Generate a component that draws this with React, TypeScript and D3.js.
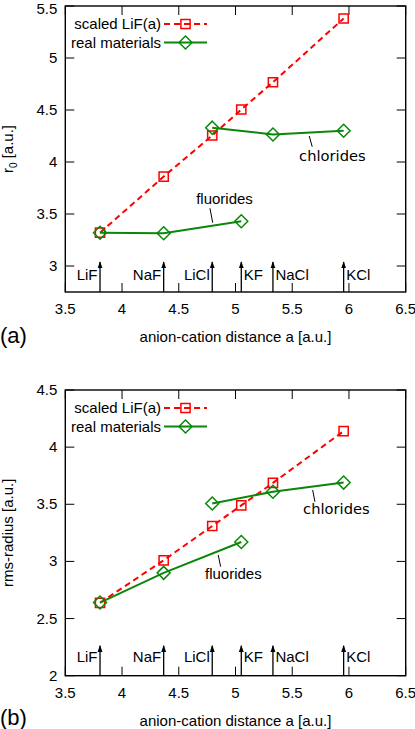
import React from "react";
import * as d3 from "d3";

const materials = ["LiF", "NaF", "LiCl", "KF", "NaCl", "KCl"];
const latticeA = [3.806, 4.367, 4.795, 5.051, 5.33, 5.953];
const labelSide = ["left", "left", "left", "right", "right", "right"];

// panel (a): r0
const scaledR0 = [3.32, 3.86, 4.255, 4.505, 4.767, 5.38];
const realR0 = [3.32, 3.315, 4.33, 3.43, 4.265, 4.3];
// panel (b): rms radius
const scaledRms = [2.638, 3.01, 3.31, 3.49, 3.687, 4.14];
const realRms = [2.64, 2.9, 3.507, 3.17, 3.61, 3.69];

const fluorideIdx = [0, 1, 3];
const chlorideIdx = [2, 4, 5];

const xTicks = [3.5, 4, 4.5, 5, 5.5, 6, 6.5];
const yTicksA = [3, 3.5, 4, 4.5, 5, 5.5];
const yTicksB = [2, 2.5, 3, 3.5, 4, 4.5];

const legendLabels = ["scaled LiF(a)", "real materials"];

// annotation: [text, textX, textY, lineX1, lineY1, lineX2, lineY2]
const annotA: [string, number, number, number, number, number, number][] = [
  ["chlorides", 5.854, 4.01, 5.65, 4.25, 5.676, 4.147],
  ["fluorides", 4.903, 3.596, 4.775, 3.555, 4.799, 3.416],
];
const annotB: [string, number, number, number, number, number, number][] = [
  ["chlorides", 5.889, 3.415, 5.68, 3.625, 5.7, 3.522],
  ["fluorides", 4.981, 2.843, 4.848, 3.056, 4.869, 2.954],
];

const RED = "#ff0000";
const GREEN = "#0a870a";
const FONT = "'Liberation Sans', Arial, sans-serif";
const DJ = "'DejaVu Sans', sans-serif";

function squarePath(x: number, y: number, s: number) {
  return `M${x - s},${y - s}H${x + s}V${y + s}H${x - s}Z`;
}
function diamondPath(x: number, y: number, s: number) {
  return `M${x},${y - s}L${x + s},${y}L${x},${y + s}L${x - s},${y}Z`;
}

type PanelProps = {
  top: number;
  bottom: number;
  yDomain: [number, number];
  yTicks: number[];
  scaled: number[];
  real: number[];
  annots: [string, number, number, number, number, number, number][];
  yLabel: React.ReactNode;
  tag: string;
  tagY: number;
  labelOffset: number;
};

function Panel(p: PanelProps) {
  const left = 65.3;
  const right = 405.7;
  const x = d3.scaleLinear().domain([3.5, 6.5]).range([left, right]);
  const y = d3.scaleLinear().domain(p.yDomain).range([p.bottom, p.top]);
  const line = d3
    .line<number>()
    .x((i) => x(latticeA[i]))
    .y((i) => y(p.scaled[i]));
  const order = d3.range(materials.length).sort((a, b) => latticeA[a] - latticeA[b]);
  const realLine = d3
    .line<number>()
    .x((i) => x(latticeA[i]))
    .y((i) => y(p.real[i]));
  const tickLen = 9;
  const midY = (p.top + p.bottom) / 2;
  const midX = (left + right) / 2;

  return (
    <g>
      {/* frame */}
      <rect x={left} y={p.top} width={right - left} height={p.bottom - p.top} fill="none" stroke="#000" strokeWidth={1.4} />
      {/* x ticks */}
      {xTicks.map((t) => (
        <g key={"xt" + t}>
          <line x1={x(t)} x2={x(t)} y1={p.bottom} y2={p.bottom - tickLen} stroke="#000" strokeWidth={1} />
          <line x1={x(t)} x2={x(t)} y1={p.top} y2={p.top + tickLen} stroke="#000" strokeWidth={1} />
          <text x={x(t)} y={p.bottom + 22} textAnchor="middle" fontFamily={FONT} fontSize={15}>
            {t}
          </text>
        </g>
      ))}
      {/* y ticks */}
      {p.yTicks.map((t) => (
        <g key={"yt" + t}>
          <line x1={left} x2={left + tickLen} y1={y(t)} y2={y(t)} stroke="#000" strokeWidth={1} />
          <line x1={right} x2={right - tickLen} y1={y(t)} y2={y(t)} stroke="#000" strokeWidth={1} />
          <text x={left - 8} y={Math.max(y(t) + 5, 13.5)} textAnchor="end" fontFamily={FONT} fontSize={15}>
            {t}
          </text>
        </g>
      ))}
      {/* material arrows */}
      {materials.map((m, i) => (
        <g key={"ar" + m}>
          <line
            x1={x(latticeA[i])}
            x2={x(latticeA[i])}
            y1={p.bottom}
            y2={p.bottom - 30}
            stroke="#000"
            strokeWidth={1.3}
            markerEnd="url(#arrowhead)"
          />
          <text
            x={x(latticeA[i]) + (labelSide[i] === "left" ? -2.5 : 2.5)}
            y={p.bottom - p.labelOffset}
            textAnchor={labelSide[i] === "left" ? "end" : "start"}
            fontFamily={FONT}
            fontSize={15}
          >
            {m}
          </text>
        </g>
      ))}
      {/* scaled series */}
      <path d={line(order) || ""} fill="none" stroke={RED} strokeWidth={2} strokeDasharray="6,4" />
      {order.map((i) => (
        <path key={"sq" + i} d={squarePath(x(latticeA[i]), y(p.scaled[i]), 4.6)} fill="none" stroke={RED} strokeWidth={1.5} />
      ))}
      {/* real series */}
      {[fluorideIdx, chlorideIdx].map((grp, gi) => (
        <path key={"rl" + gi} d={realLine(grp) || ""} fill="none" stroke={GREEN} strokeWidth={2} />
      ))}
      {order.map((i) => (
        <path key={"dm" + i} d={diamondPath(x(latticeA[i]), y(p.real[i]), 6.5)} fill="none" stroke={GREEN} strokeWidth={1.5} />
      ))}
      {/* annotations */}
      {p.annots.map((a) => (
        <g key={"an" + a[0]}>
          <line x1={x(a[3])} y1={y(a[4])} x2={x(a[5])} y2={y(a[6])} stroke="#000" strokeWidth={1} />
          <text
            x={x(a[1])}
            y={y(a[2])}
            textAnchor="middle"
            fontFamily={a[0] === "chlorides" ? DJ : FONT}
            fontSize={a[0] === "chlorides" ? 14.7 : 15}
          >
            {a[0]}
          </text>
        </g>
      ))}
      {/* legend */}
      {legendLabels.map((lab, li) => {
        const ly = p.top + 18 + li * 18.5;
        return (
          <g key={"lg" + li}>
            <text x={161} y={ly + 5} textAnchor="end" fontFamily={FONT} fontSize={15}>
              {lab}
            </text>
            <line
              x1={164}
              x2={207}
              y1={ly}
              y2={ly}
              stroke={li === 0 ? RED : GREEN}
              strokeWidth={2}
              strokeDasharray={li === 0 ? "6,4" : undefined}
            />
            <path
              d={li === 0 ? squarePath(185.5, ly, 4.6) : diamondPath(185.5, ly, 6.5)}
              fill="none"
              stroke={li === 0 ? RED : GREEN}
              strokeWidth={1.5}
            />
          </g>
        );
      })}
      {/* axis labels */}
      <text x={midX} y={p.bottom + 50} textAnchor="middle" fontFamily={FONT} fontSize={15}>
        anion-cation distance a [a.u.]
      </text>
      <text
        transform={`translate(13,${midY}) rotate(-90)`}
        textAnchor="middle"
        fontFamily={FONT}
        fontSize={15}
      >
        {p.yLabel}
      </text>
      <text x={0} y={p.tagY} fontFamily={FONT} fontSize={22}>
        {p.tag}
      </text>
    </g>
  );
}

export default function App() {
  return (
    <svg
      width={415}
      height={729}
      style={{ position: "absolute", left: 0, top: 0, background: "#fff" }}
    >
      <defs>
        <marker id="arrowhead" viewBox="0 0 10 10" refX={9} refY={5} markerWidth={7} markerHeight={7} markerUnits="userSpaceOnUse" orient="auto">
          <path d="M0,1.5L10,5L0,8.5Z" fill="#000" />
        </marker>
      </defs>
      <rect width={415} height={729} fill="#fff" />
      <Panel
        top={6}
        bottom={292}
        yDomain={[2.75, 5.5]}
        yTicks={yTicksA}
        scaled={scaledR0}
        real={realR0}
        annots={annotA}
        yLabel={
          <>
            r<tspan fontSize={10} dy={4}>0</tspan>
            <tspan dy={-4}> [a.u.]</tspan>
          </>
        }
        tag="(a)"
        tagY={343}
        labelOffset={12}
      />
      <Panel
        top={390}
        bottom={675.7}
        yDomain={[2, 4.5]}
        yTicks={yTicksB}
        scaled={scaledRms}
        real={realRms}
        annots={annotB}
        yLabel={"rms-radius [a.u.]"}
        tag="(b)"
        tagY={725}
        labelOffset={14}
      />
    </svg>
  );
}
